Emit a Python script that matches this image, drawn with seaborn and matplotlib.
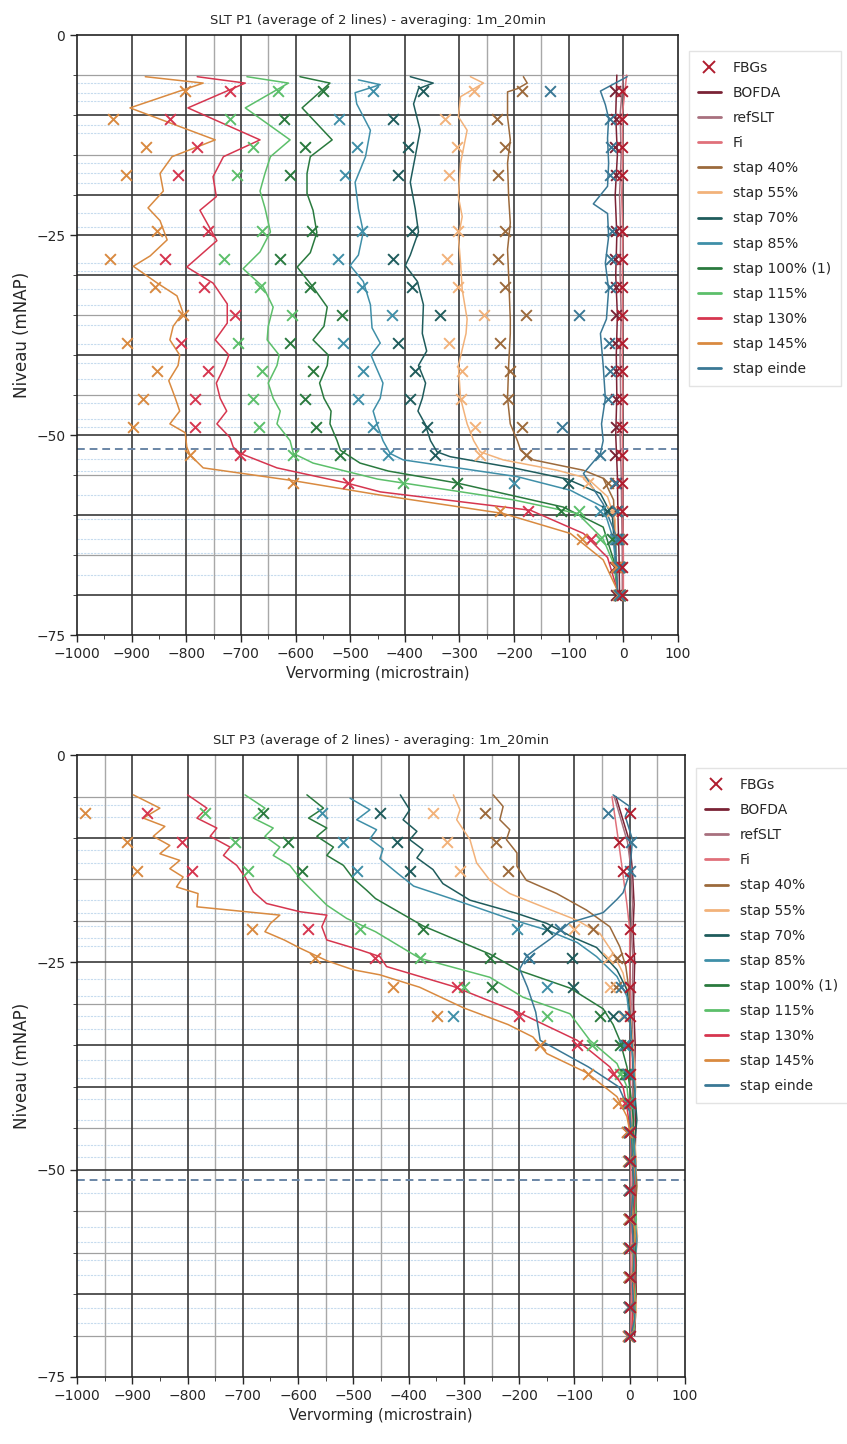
import matplotlib
matplotlib.use("Agg")
import matplotlib.pyplot as plt
from matplotlib.lines import Line2D
from matplotlib.ticker import MultipleLocator
import seaborn as sns

sns.set_style("ticks")
plt.rcParams['font.family'] = ['DejaVu Sans']

# ---------------- kleuren per reeks ----------------
COLORS = {
    'FBGs': '#b01c2e',
    'BOFDA': '#7a2335',
    'refSLT': '#a8707e',
    'Fi': '#e0707a',
    'stap 40%': '#9c6a3c',
    'stap 55%': '#f2b27a',
    'stap 70%': '#1f5c5c',
    'stap 85%': '#3f8fa8',
    'stap 100% (1)': '#2a7a3e',
    'stap 115%': '#5cbf6a',
    'stap 130%': '#d6364f',
    'stap 145%': '#d98a40',
    'stap einde': '#3a7895',
}
LEGEND_ORDER = ['BOFDA', 'refSLT', 'Fi', 'stap 40%', 'stap 55%', 'stap 70%', 'stap 85%',
                'stap 100% (1)', 'stap 115%', 'stap 130%', 'stap 145%', 'stap einde']

# ---------------- P1 (boven) : DFOS lijnen ----------------
TOP_145_Z = [-5.2, -6.0, -9.1, -13.1, -15.2, -17.3, -19.5, -21.6, -23.2, -25.6, -27.6, -28.9, -31.0, -32.6, -34.7,
             -36.4, -38.1, -40.0, -41.3, -43.2, -45.4, -47.0, -48.6, -49.7, -51.5, -52.5, -54.1, -55.7, -57.5, -59.8,
             -62.3, -65.6, -69.4]
TOP_145_X = [-875, -769, -903, -747, -826, -848, -842, -870, -848, -835, -866, -897, -853, -817, -806,
             -824, -830, -812, -815, -832, -820, -812, -830, -802, -799, -793, -769, -604, -445, -220,
             -97, -37, -11]
TOP_130_Z = [-5.2, -6.0, -9.1, -13.1, -15.2, -17.7, -20.2, -21.9, -25.7, -29.0, -31.0, -33.6, -36.0, -38.1, -40.0,
             -41.3, -43.5, -45.4, -47.0, -48.6, -50.3, -51.5, -52.3, -54.1, -56.0, -57.1, -59.4, -62.3, -65.3, -69.4]
TOP_130_X = [-780, -692, -797, -665, -732, -751, -745, -775, -744, -799, -751, -725, -725, -747, -722,
             -729, -745, -738, -726, -744, -720, -714, -701, -634, -506, -445, -170, -73, -29, -11]
TOP_115_Z = [-5.2, -6.0, -9.1, -13.1, -15.2, -17.3, -19.5, -21.6, -24.6, -27.1, -29.2, -31.5, -34.0, -36.4, -38.1,
             -40.0, -41.3, -43.5, -45.4, -47.0, -48.6, -50.7, -52.3, -53.5, -55.5, -58.1, -59.8, -63.0, -66.5, -69.4]
TOP_115_X = [-689, -613, -692, -610, -646, -656, -665, -656, -646, -665, -696, -659, -641, -650, -652,
             -630, -634, -650, -641, -628, -634, -610, -604, -568, -450, -201, -84, -37, -15, -11]
TOP_100_Z = [-5.2, -6.0, -9.1, -13.1, -15.2, -17.3, -19.8, -21.9, -24.7, -27.2, -29.0, -31.5, -34.0, -36.4, -38.1,
             -40.0, -41.3, -43.5, -45.4, -47.0, -48.6, -50.7, -51.9, -53.5, -54.5, -56.0, -59.0, -61.5, -65.6, -69.4]
TOP_100_X = [-592, -537, -588, -533, -573, -579, -579, -568, -561, -573, -597, -568, -542, -548, -568,
             -540, -542, -556, -548, -535, -537, -524, -518, -482, -430, -304, -110, -37, -18, -11]
TOP_85_Z = [-5.6, -6.2, -7.2, -8.6, -11.9, -15.2, -18.4, -21.7, -24.6, -27.5, -28.8, -30.8, -33.7, -36.6, -38.5,
            -40.0, -41.3, -43.5, -45.4, -47.0, -48.6, -50.7, -52.3, -53.1, -55.2, -56.9, -59.0, -63.1, -69.4]
TOP_85_X = [-485, -445, -491, -488, -463, -472, -491, -485, -476, -485, -500, -476, -463, -460, -445,
            -462, -454, -440, -445, -458, -451, -440, -427, -403, -194, -97, -37, -18, -11]
TOP_70_Z = [-5.2, -6.0, -6.7, -8.6, -11.9, -15.2, -18.4, -21.7, -24.6, -27.5, -28.8, -30.8, -33.7, -37.3, -39.5,
            -41.3, -43.5, -45.4, -47.0, -48.6, -50.7, -52.1, -52.7, -54.1, -55.5, -57.3, -60.2, -69.4]
TOP_70_X = [-390, -348, -375, -384, -372, -381, -390, -381, -375, -390, -399, -377, -366, -368, -360,
            -375, -362, -368, -376, -363, -353, -341, -317, -201, -103, -42, -20, -11]
TOP_55_Z = [-5.2, -6.0, -7.7, -10.2, -11.9, -16.0, -20.2, -22.7, -25.2, -28.5, -31.8, -35.5, -37.3, -41.3, -45.4,
            -48.6, -50.7, -52.1, -53.1, -54.4, -55.4, -57.7, -60.6, -69.4]
TOP_55_X = [-280, -256, -298, -302, -286, -298, -302, -295, -302, -298, -295, -286, -288, -302, -298,
            -286, -274, -262, -220, -121, -66, -29, -15, -11]
TOP_40_Z = [-5.2, -6.0, -6.7, -7.1, -10.2, -13.1, -16.0, -20.2, -23.5, -26.8, -30.1, -35.5, -37.3, -41.3, -45.4,
            -48.6, -50.7, -51.9, -53.1, -54.4, -55.4, -58.1, -69.4]
TOP_40_X = [-183, -176, -194, -212, -212, -207, -212, -210, -207, -212, -210, -207, -207, -210, -212,
            -207, -194, -188, -165, -73, -37, -18, -11]
TOP_END_Z = [-5.2, -7.0, -8.7, -10.4, -12.9, -16.0, -18.9, -21.1, -22.3, -25.2, -28.5, -31.8, -35.5, -37.3, -41.3,
             -45.4, -48.6, -50.7, -52.3, -54.8, -58.6, -62.3, -69.4]
TOP_END_X = [7, -42, -33, -27, -29, -27, -29, -55, -29, -27, -33, -27, -31, -42, -37,
             -33, -40, -37, -42, -73, -37, -15, -11]
TOP_REF_Z = [-5, -10, -15, -20, -25, -30, -35, -40, -45, -50, -55, -60, -65, -70]
TOP_BOFDA_X = [-12, -14, -11, -15, -12, -14, -11, -13, -12, -14, -11, -10, -8, -7]
TOP_REFSLT_X = [0, -6, -4, -7, -5, -6, -4, -6, -5, -6, -4, -3, -2, -2]
TOP_FI_X = [6, -2, -1, -3, -1, -2, -1, -2, -1, -2, -1, -1, 0, 0]

# ---------------- P1 (boven) : FBG punten ----------------
TOP_FBG_Z = [-7, -10.5, -14, -17.5, -24.5, -28, -31.5, -35, -38.5, -42, -45.5, -49, -52.5, -56, -59.5, -63, -66.5, -70]
TOP_FBG_145 = [-802, -934, -874, -910, -853, -940, -857, -806, -908, -853, -879, -897, -793, -604, -225, -75, -14, -9]
TOP_FBG_130 = [-720, -830, -780, -815, -760, -839, -767, -711, -810, -760, -784, -784, -701, -504, -174, -60, -12, -8]
TOP_FBG_115 = [-632, -720, -678, -707, -661, -731, -665, -606, -705, -661, -678, -667, -604, -403, -82, -42, -10, -7]
TOP_FBG_100 = [-549, -621, -582, -610, -570, -628, -573, -515, -610, -568, -582, -562, -518, -304, -115, -20, -10, -6]
TOP_FBG_85 = [-458, -520, -487, -509, -478, -522, -478, -423, -513, -476, -485, -458, -430, -201, -42, -15, -8, -6]
TOP_FBG_70 = [-366, -421, -394, -412, -386, -421, -386, -335, -412, -381, -390, -359, -344, -101, -30, -12, -8, -6]
TOP_FBG_55 = [-274, -326, -304, -320, -302, -322, -302, -256, -320, -295, -298, -271, -262, -64, -20, -10, -8, -6]
TOP_FBG_40 = [-185, -231, -216, -229, -216, -229, -216, -179, -225, -207, -212, -185, -179, -29, -11, -8, -7, -6]
TOP_FBG_END = [-134, -25, -22, -24, -20, -22, -24, -82, -27, -25, -29, -112, -42, -15, -12, -10, -8, -8]
TOP_FBG_BOFDA = [-15, -14, -15, -13, -14, -15, -14, -13, -15, -14, -13, -14, -15, -14, -13, -14, -15, -14]
TOP_FBG_REF = [-2, -3, -2, -3, -2, -3, -2, -2, -3, -2, -3, -2, -3, -3, -2, -3, -2, -3]

# ---------------- P3 (onder) : DFOS lijnen ----------------
BOT_145_Z = [-4.8, -6.4, -7.6, -8.6, -9.8, -10.9, -11.9, -12.7, -13.7, -14.7, -15.9, -16.7, -18.3, -19.3, -20.3,
             -21.3, -22.3, -23.3, -24.8, -25.9, -26.5, -28.0, -30.5, -32.5, -34.0, -36.0, -38.3, -41.2, -43.6, -46.0,
             -50.0, -54.0, -58.0, -62.0, -66.0, -69.5]
BOT_145_X = [-898, -850, -880, -841, -862, -832, -850, -814, -832, -808, -820, -781, -783, -633, -650,
             -660, -625, -596, -548, -500, -452, -380, -300, -220, -175, -150, -78, -23, -5, 2,
             8, 4, 10, 5, 9, 6]
BOT_130_Z = [-4.8, -6.4, -7.6, -8.8, -9.8, -11.1, -12.1, -13.3, -14.7, -16.5, -17.9, -18.9, -19.3, -20.7, -22.3,
             -23.5, -24.3, -25.5, -27.9, -31.1, -34.4, -37.6, -40.0, -42.4, -45.0, -49.0, -53.0, -57.5, -61.5, -65.5,
             -69.5]
BOT_130_X = [-800, -765, -783, -747, -759, -723, -735, -711, -696, -681, -657, -596, -548, -557, -548,
             -488, -452, -440, -319, -199, -95, -36, -12, -5, 0, 6, 10, 5, 11, 7,
             4]
BOT_115_Z = [-4.8, -6.4, -7.6, -8.8, -9.8, -11.1, -12.1, -13.3, -14.9, -16.5, -18.1, -19.7, -21.3, -24.5, -26.8,
             -29.2, -31.2, -34.4, -37.2, -40.0, -43.0, -47.0, -51.5, -56.0, -60.0, -64.5, -69.5]
BOT_115_X = [-696, -660, -681, -645, -660, -633, -645, -615, -596, -572, -548, -512, -460, -380, -253,
             -193, -108, -72, -23, -5, 0, 5, 9, 12, 6, 10, 8]
BOT_100_Z = [-4.8, -6.4, -7.6, -8.8, -9.8, -11.1, -12.1, -13.3, -14.9, -16.3, -17.3, -20.6, -24.0, -26.0, -28.1,
             -30.6, -32.5, -34.4, -37.6, -40.0, -44.0, -48.5, -53.0, -57.0, -61.5, -66.0, -69.5]
BOT_100_X = [-584, -554, -581, -548, -566, -536, -548, -518, -500, -476, -460, -374, -253, -199, -108,
             -48, -30, -18, -5, 0, 7, 4, 9, 6, 12, 7, 5]
BOT_85_Z = [-5.2, -6.6, -7.8, -9.0, -10.1, -11.3, -12.5, -14.2, -15.8, -17.4, -19.8, -21.1, -22.6, -24.3, -26.7,
            -29.1, -32.0, -36.0, -40.5, -45.0, -49.5, -54.0, -58.5, -63.0, -67.0, -69.5]
BOT_85_X = [-506, -470, -494, -458, -470, -446, -452, -421, -391, -319, -215, -150, -95, -60, -23,
            -5, 0, 5, 10, 6, 11, 7, 13, 8, 10, 6]
BOT_70_Z = [-4.8, -6.6, -7.8, -9.2, -10.2, -11.4, -12.4, -13.8, -15.5, -17.5, -19.1, -20.3, -22.0, -23.2, -25.9,
            -28.3, -31.0, -35.0, -39.5, -44.0, -48.0, -52.5, -57.0, -61.0, -65.5, -69.5]
BOT_70_X = [-415, -398, -410, -385, -398, -374, -385, -356, -338, -289, -204, -150, -102, -60, -23,
            -5, 0, 4, 8, 13, 7, 10, 6, 11, 9, 5]
BOT_55_Z = [-4.8, -6.6, -7.8, -10.2, -13.0, -15.1, -16.7, -18.3, -19.9, -21.5, -23.9, -26.3, -28.7, -31.0, -35.0,
            -40.0, -44.5, -49.0, -53.5, -58.0, -62.5, -67.0, -69.5]
BOT_55_X = [-319, -307, -313, -289, -277, -253, -217, -157, -96, -54, -30, -12, -4, 0, 6,
            11, 7, 12, 8, 14, 9, 12, 7]
BOT_40_Z = [-4.8, -6.2, -7.8, -9.0, -10.2, -11.8, -13.4, -15.1, -16.7, -18.7, -20.7, -23.1, -25.5, -28.0, -31.0,
            -35.0, -39.0, -43.5, -48.0, -52.0, -56.5, -61.0, -65.0, -69.5]
BOT_40_X = [-247, -229, -235, -217, -223, -204, -204, -187, -132, -78, -36, -18, -7, -2, 0,
            5, 9, 6, 10, 13, 8, 12, 7, 6]
BOT_END_Z = [-4.8, -6.2, -7.4, -10.2, -14.2, -16.6, -17.4, -19.0, -20.2, -22.2, -24.2, -25.8, -28.0, -31.0, -34.4,
             -37.6, -40.0, -43.0, -47.0, -51.0, -55.5, -60.0, -64.0, -68.0, -69.5]
BOT_END_X = [-30, 0, -8, 5, 0, -12, -23, -48, -108, -144, -186, -199, -185, -170, -162,
             -75, -20, 0, 4, 7, 3, 8, 5, 9, 4]
BOT_REF_Z = [-5, -10.5, -14, -18, -21, -25, -30, -35, -40, -45, -50, -55, -60, -65, -70]
BOT_BOFDA_X = [-25, 0, 5, 8, 6, 9, 7, 10, 8, 11, 9, 12, 10, 12, 9]
BOT_REFSLT_X = [-28, -4, 3, 5, 3, 6, 4, 6, 5, 7, 5, 6, 5, 6, 5]
BOT_FI_X = [-32, -20, -13, -5, 0, 0, 1, 2, 1, 3, 2, 3, 2, 3, 2]

# ---------------- P3 (onder) : FBG punten ----------------
BOT_FBG_Z = [-7, -10.5, -14, -21, -24.5, -28, -31.5, -35, -38.5, -42, -45.5, -49, -52.5, -56, -59.5, -63, -66.5, -70]
BOT_FBG_145 = [-985, -910, -892, -684, -569, -428, -349, -162, -75, -21, -5, -3, -2, -2, -3, -2, -2, -3]
BOT_FBG_130 = [-874, -810, -792, -582, -461, -313, -200, -96, -30, -8, -4, -2, -2, -1, -2, -2, -1, -3]
BOT_FBG_115 = [-769, -714, -690, -488, -380, -300, -150, -68, -18, -5, -3, -2, -1, -1, -2, -1, -1, -2]
BOT_FBG_100 = [-663, -618, -593, -374, -253, -249, -53, -18, -8, -4, -2, -2, -1, -1, -1, -1, -1, -2]
BOT_FBG_85 = [-557, -519, -494, -204, -183, -150, -319, -10, -6, -3, -2, -1, -1, -1, -1, -1, -1, -2]
BOT_FBG_70 = [-452, -421, -398, -150, -104, -102, -30, -8, -5, -3, -2, -1, -1, -1, -1, -1, -1, -2]
BOT_FBG_55 = [-356, -331, -307, -100, -39, -35, -12, -6, -4, -2, -2, -1, -1, -1, -1, -1, -1, -1]
BOT_FBG_40 = [-262, -241, -220, -66, -23, -25, -10, -5, -3, -2, -1, -1, -1, -1, -1, -1, -1, -1]
BOT_FBG_END = [-39, 2, 0, -126, -183, -15, -10, -5, -3, -2, -2, -1, -1, 0, -1, 0, -1, -1]
BOT_FBG_REF = [0, -20, -13, 0, 0, 0, 0, -3, 0, 0, 0, 0, 0, 0, 0, 0, 0, 0]

# ---------------- hulplijnen ----------------
TOP_DARK_H = [-10, -20, -25, -30, -40, -50, -60, -70]
TOP_GRAY_H = [-5, -15, -35, -45, -55, -65]
TOP_BLUE_H = [-6, -7.3, -8.2, -11.3, -12.3, -16, -17.3, -18.5, -22.3, -24, -28.5, -29.5, -31.8, -33.8, -36.2,
              -38.6, -41, -43, -46, -48, -49, -53, -54.5, -57.5, -60.5, -63, -64.8, -67.5]
TOP_DARK_V = [-900, -800, -700, -600, -500, -400, -300, -200, -100, 0]
TOP_GRAY_V = [-750, -650, -250, -150]
TOP_DASH = -51.8

BOT_DARK_H = [-10, -25, -35, -40, -50, -65]
BOT_GRAY_H = [-5, -15, -20, -30, -45, -55, -60, -70]
BOT_BLUE_H = [-6, -7.5, -11.5, -13, -17.5, -19, -20.6, -22, -23, -27, -29, -31.5, -33, -36.8, -39, -41.5, -44,
              -47, -48.5, -52.8, -56.9, -58.7, -60.9, -62.7, -66.7, -68.5]
BOT_DARK_V = [-900, -800, -700, -600, -500, -400, -300, -200, -100, 0]
BOT_GRAY_V = [-950, -750, -550, -450, -250, -50, 50]
BOT_DASH = -51.2

TOP_LINES = {
    'BOFDA': (TOP_BOFDA_X, TOP_REF_Z), 'refSLT': (TOP_REFSLT_X, TOP_REF_Z), 'Fi': (TOP_FI_X, TOP_REF_Z),
    'stap 40%': (TOP_40_X, TOP_40_Z), 'stap 55%': (TOP_55_X, TOP_55_Z), 'stap 70%': (TOP_70_X, TOP_70_Z),
    'stap 85%': (TOP_85_X, TOP_85_Z), 'stap 100% (1)': (TOP_100_X, TOP_100_Z),
    'stap 115%': (TOP_115_X, TOP_115_Z), 'stap 130%': (TOP_130_X, TOP_130_Z),
    'stap 145%': (TOP_145_X, TOP_145_Z), 'stap einde': (TOP_END_X, TOP_END_Z),
}
TOP_MARKERS = {
    'BOFDA': TOP_FBG_BOFDA, 'stap 40%': TOP_FBG_40, 'stap 55%': TOP_FBG_55, 'stap 70%': TOP_FBG_70,
    'stap 85%': TOP_FBG_85, 'stap 100% (1)': TOP_FBG_100, 'stap 115%': TOP_FBG_115,
    'stap 130%': TOP_FBG_130, 'stap 145%': TOP_FBG_145, 'stap einde': TOP_FBG_END, 'FBGs': TOP_FBG_REF,
}
BOT_LINES = {
    'BOFDA': (BOT_BOFDA_X, BOT_REF_Z), 'refSLT': (BOT_REFSLT_X, BOT_REF_Z), 'Fi': (BOT_FI_X, BOT_REF_Z),
    'stap 40%': (BOT_40_X, BOT_40_Z), 'stap 55%': (BOT_55_X, BOT_55_Z), 'stap 70%': (BOT_70_X, BOT_70_Z),
    'stap 85%': (BOT_85_X, BOT_85_Z), 'stap 100% (1)': (BOT_100_X, BOT_100_Z),
    'stap 115%': (BOT_115_X, BOT_115_Z), 'stap 130%': (BOT_130_X, BOT_130_Z),
    'stap 145%': (BOT_145_X, BOT_145_Z), 'stap einde': (BOT_END_X, BOT_END_Z),
}
BOT_MARKERS = {
    'stap 40%': BOT_FBG_40, 'stap 55%': BOT_FBG_55, 'stap 70%': BOT_FBG_70, 'stap 85%': BOT_FBG_85,
    'stap 100% (1)': BOT_FBG_100, 'stap 115%': BOT_FBG_115, 'stap 130%': BOT_FBG_130,
    'stap 145%': BOT_FBG_145, 'stap einde': BOT_FBG_END, 'FBGs': BOT_FBG_REF,
}


def draw_panel(ax, title, lines, markers, fbg_z, dark_h, gray_h, blue_h, dark_v, gray_v, dash_y, leg_y):
    # hulplijnen / grid
    for y in blue_h:
        ax.axhline(y, color='#c6dbee', lw=0.8, ls=(0, (2, 1)), zorder=0)
    for y in gray_h:
        ax.axhline(y, color='#a0a0a0', lw=0.9, zorder=0.5)
    for y in dark_h:
        ax.axhline(y, color='#3a3a3a', lw=1.2, zorder=0.6)
    for x in gray_v:
        ax.axvline(x, color='#a8a8a8', lw=1.0, zorder=0.5)
    for x in dark_v:
        ax.axvline(x, color='#3a3a3a', lw=1.2, zorder=0.6)
    ax.axhline(dash_y, color='#6a86a6', lw=1.4, ls=(0, (4, 2.5)), zorder=0.7)

    # DFOS lijnen
    for name, (xs, zs) in lines.items():
        sns.lineplot(x=xs, y=zs, sort=False, estimator=None, color=COLORS[name],
                     linewidth=1.1, ax=ax, zorder=2)
    # FBG punten
    for name, xs in markers.items():
        sns.scatterplot(x=xs, y=fbg_z, marker='x', s=60, color=COLORS[name],
                        linewidth=1.4, ax=ax, zorder=3)

    ax.set_xlim(-1000, 100)
    ax.set_ylim(-75, 0)
    ax.set_xticks(range(-1000, 101, 100))
    ax.set_yticks([0, -25, -50, -75])
    ax.xaxis.set_minor_locator(MultipleLocator(50))
    ax.yaxis.set_minor_locator(MultipleLocator(5))
    ax.tick_params(labelsize=10, length=5, width=1)
    ax.tick_params(which='minor', length=3)
    for s in ax.spines.values():
        s.set_color('#222222')
        s.set_linewidth(1.2)
    ax.set_title(title, fontsize=9.5, pad=8)
    ax.set_xlabel('Vervorming (microstrain)', fontsize=10.5)
    ax.set_ylabel('Niveau (mNAP)', fontsize=12)

    handles = [Line2D([], [], color=COLORS['FBGs'], marker='x', ls='none', markersize=8, mew=1.4, label='FBGs')]
    for name in LEGEND_ORDER:
        handles.append(Line2D([], [], color=COLORS[name], lw=2, label=name))
    ax.legend(handles=handles, loc='upper left', bbox_to_anchor=(1.006, leg_y), fontsize=10,
              labelspacing=0.8, handlelength=1.6, handletextpad=0.9, borderpad=0.7, frameon=True,
              edgecolor='#dddddd', fancybox=False)


fig = plt.figure(figsize=(8.47, 14.44), dpi=100)
ax_top = fig.add_axes([0.0909, 0.5602, 0.7096, 0.4155])
ax_bot = fig.add_axes([0.0909, 0.0464, 0.7178, 0.4307])

draw_panel(ax_top, 'SLT P1 (average of 2 lines) - averaging: 1m_20min', TOP_LINES, TOP_MARKERS, TOP_FBG_Z,
           TOP_DARK_H, TOP_GRAY_H, TOP_BLUE_H, TOP_DARK_V, TOP_GRAY_V, TOP_DASH, 0.985)
draw_panel(ax_bot, 'SLT P3 (average of 2 lines) - averaging: 1m_20min', BOT_LINES, BOT_MARKERS, BOT_FBG_Z,
           BOT_DARK_H, BOT_GRAY_H, BOT_BLUE_H, BOT_DARK_V, BOT_GRAY_V, BOT_DASH, 0.99)

fig.savefig('out.png', dpi=100)
plt.close(fig)
